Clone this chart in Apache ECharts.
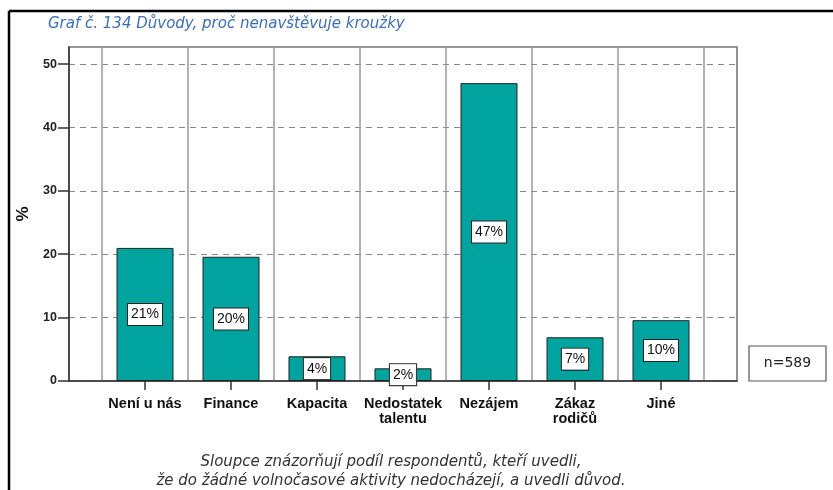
<!DOCTYPE html>
<html>
<head>
<meta charset="utf-8">
<script src="https://cdn.jsdelivr.net/npm/echarts@6/dist/echarts.min.js"></script>
<style>
html,body{margin:0;padding:0;background:#fff;}
#chart{width:833px;height:490px;}
</style>
</head>
<body>
<div id="chart"></div>
<script>
const categories = ['Není u nás', 'Finance', 'Kapacita', 'Nedostatek\ntalentu', 'Nezájem', 'Zákaz\nrodičů', 'Jiné'];
const values = [21.0, 19.6, 3.9, 2.0, 47.0, 6.9, 9.6];
const valueLabels = ['21%', '20%', '4%', '2%', '47%', '7%', '10%'];
const yTicks = [0, 10, 20, 30, 40, 50];
const titleText = 'Graf č. 134 Důvody, proč nenavštěvuje kroužky';
const nText = 'n=589';
const captionLines = ['Sloupce znázorňují podíl respondentů, kteří uvedli,', 'že do žádné volnočasové aktivity nedocházejí, a uvedli důvod.'];

const FONT = '"Liberation Sans", Arial, sans-serif';
const WIDE = '"DejaVu Sans", sans-serif';
const YMAX = 52.7;
const chart = echarts.init(document.getElementById('chart'), null, {renderer: 'canvas'});

chart.setOption({
  animation: false,
  backgroundColor: '#fff',
  title: {
    text: titleText,
    left: 43, top: 12,
    textStyle: {fontFamily: WIDE, fontStyle: 'italic', fontWeight: 'normal', fontSize: 15, color: '#3d6fb4'}
  },
  grid: [
    {left: 69, right: 96, top: 47, bottom: 109, show: true, borderColor: '#777', borderWidth: 1.6, backgroundColor: 'transparent'},
    {left: 102, right: 129, top: 47, bottom: 109}
  ],
  xAxis: [
    {gridIndex: 0, type: 'value', min: 0, max: 1,
     axisLine: {show: true, onZero: false, lineStyle: {color: '#333', width: 1.5}},
     axisTick: {show: false}, axisLabel: {show: false}, splitLine: {show: false}},
    {gridIndex: 1, type: 'category', data: categories,
     axisLine: {show: false},
     axisTick: {show: true, alignWithLabel: true, length: 9, lineStyle: {color: '#333', width: 1.5}},
     axisLabel: {fontFamily: FONT, fontWeight: 'bold', fontSize: 14.5, color: '#111', margin: 15, lineHeight: 15, interval: 0},
     splitLine: {show: true, lineStyle: {color: '#999', width: 1.5}}}
  ],
  yAxis: [
    {gridIndex: 0, type: 'value', min: 0, max: YMAX, interval: 10,
     name: '%', nameLocation: 'middle', nameGap: 37, nameRotate: 90,
     nameTextStyle: {fontFamily: FONT, fontWeight: 'bold', fontSize: 17, color: '#111'},
     axisLine: {show: true, lineStyle: {color: '#333', width: 1.5}},
     axisTick: {show: true, length: 11, customValues: yTicks, lineStyle: {color: '#333', width: 1.5}},
     axisLabel: {customValues: yTicks, fontFamily: FONT, fontWeight: 'bold', fontSize: 12.5, color: '#222', margin: 12},
     splitLine: {show: true, lineStyle: {color: '#888', type: [6, 5], width: 1.2}}},
    {gridIndex: 1, type: 'value', min: 0, max: YMAX, show: false, splitLine: {show: false}}
  ],
  series: [{
    type: 'bar', xAxisIndex: 1, yAxisIndex: 1,
    data: values, barWidth: 57,
    itemStyle: {color: '#00a39e', borderColor: '#222', borderWidth: 1},
    label: {
      show: true, position: 'inside',
      formatter: p => valueLabels[p.dataIndex],
      fontFamily: FONT, fontSize: 14, color: '#111',
      backgroundColor: '#fff', borderColor: '#222', borderWidth: 1, padding: [4, 3, 3, 3]
    }
  }],
  graphic: [
    {type: 'line', shape: {x1: 9, y1: 11, x2: 833, y2: 11}, style: {stroke: '#000', lineWidth: 2.5}},
    {type: 'line', shape: {x1: 9, y1: 11, x2: 9, y2: 490}, style: {stroke: '#000', lineWidth: 2.5}},
    {type: 'rect', shape: {x: 749, y: 346, width: 77, height: 35}, style: {fill: '#fff', stroke: '#555', lineWidth: 1.2}},
    {type: 'text', x: 787.5, y: 363.5, style: {text: nText, font: '14px ' + WIDE, fill: '#222', textAlign: 'center', textVerticalAlign: 'middle'}},
    {type: 'text', x: 391, y: 462, style: {text: captionLines[0], font: 'italic 15px ' + WIDE, fill: '#333', textAlign: 'center', textVerticalAlign: 'middle'}},
    {type: 'text', x: 391, y: 481, style: {text: captionLines[1], font: 'italic 15px ' + WIDE, fill: '#333', textAlign: 'center', textVerticalAlign: 'middle'}}
  ]
});
</script>
</body>
</html>
